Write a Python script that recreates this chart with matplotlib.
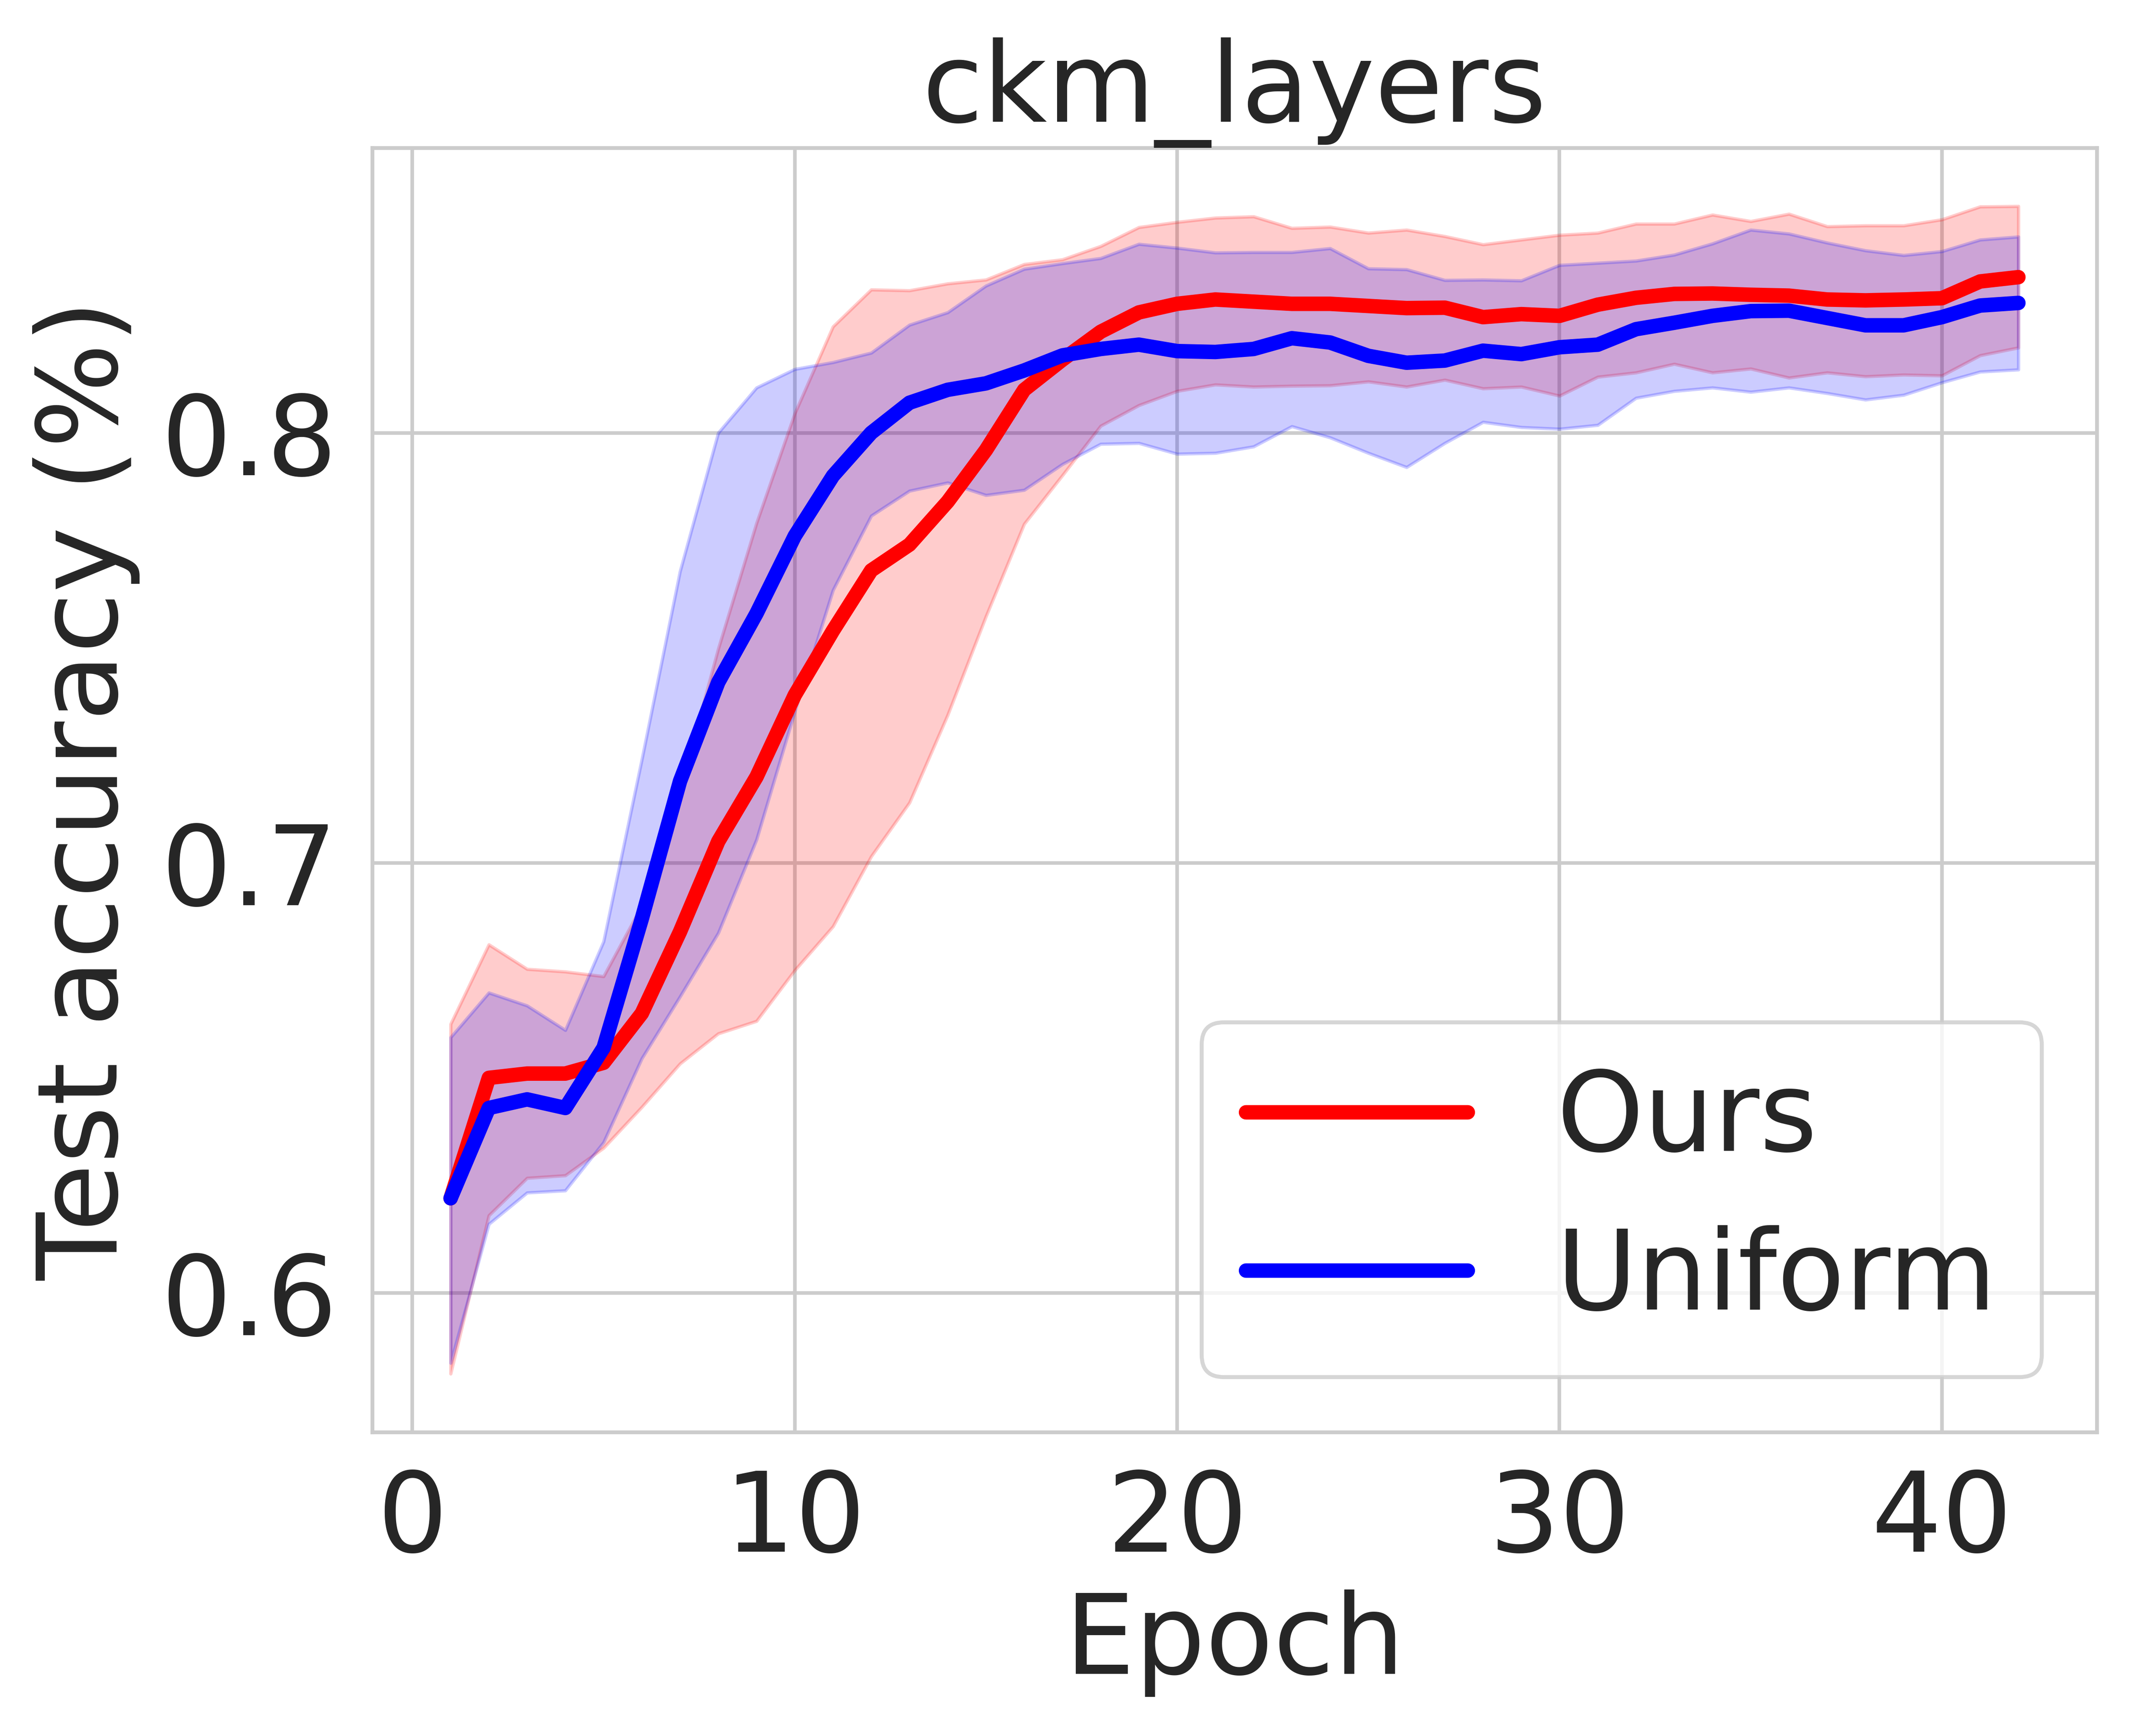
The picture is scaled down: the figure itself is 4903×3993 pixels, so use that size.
import matplotlib
matplotlib.use("Agg")
import matplotlib.pyplot as plt

# ---------------- data ----------------
epochs = list(range(1, 43))

ours_mean = [0.622, 0.650, 0.651, 0.651, 0.6535, 0.665, 0.684, 0.705, 0.720, 0.739,
             0.754, 0.768, 0.774, 0.784, 0.796, 0.810, 0.817, 0.8235, 0.828, 0.830,
             0.831, 0.8305, 0.830, 0.830, 0.8295, 0.829, 0.8291, 0.8269, 0.8276, 0.8272,
             0.8298, 0.8314, 0.8323, 0.8324, 0.8321, 0.8319, 0.8310, 0.8308, 0.8310, 0.8313,
             0.8352, 0.8362]
ours_upper = [0.6625, 0.681, 0.6753, 0.6747, 0.6736, 0.690, 0.717, 0.7498, 0.779, 0.8045,
              0.8247, 0.8333, 0.8331, 0.8347, 0.8356, 0.8392, 0.8403, 0.8434, 0.8478, 0.849,
              0.850, 0.8503, 0.8476, 0.8479, 0.8465, 0.8472, 0.8457, 0.8438, 0.8449, 0.846,
              0.8465, 0.8486, 0.8486, 0.8507, 0.8492, 0.8509, 0.848, 0.8482, 0.8482, 0.8496,
              0.8526, 0.8527]
ours_lower = [0.5812, 0.618, 0.6267, 0.6273, 0.6337, 0.6432, 0.6533, 0.6603, 0.6632, 0.675,
              0.6852, 0.7015, 0.714, 0.7344, 0.7573, 0.7788, 0.7901, 0.8016, 0.8064, 0.8097,
              0.8112, 0.8107, 0.8109, 0.811, 0.8119, 0.8107, 0.8123, 0.8103, 0.8107, 0.8086,
              0.813, 0.814, 0.816, 0.814, 0.8149, 0.8128, 0.814, 0.8131, 0.8135, 0.8133,
              0.818, 0.8198]

uniform_mean = [0.622, 0.643, 0.645, 0.643, 0.657, 0.687, 0.719, 0.742, 0.758, 0.776,
                0.790, 0.800, 0.807, 0.810, 0.8115, 0.8145, 0.818, 0.8195, 0.8205, 0.819,
                0.8188, 0.8195, 0.822, 0.821, 0.8179, 0.8163, 0.8168, 0.8191, 0.8183, 0.8199,
                0.8205, 0.8241, 0.8256, 0.8272, 0.8283, 0.8284, 0.8267, 0.825, 0.825, 0.8269,
                0.8296, 0.8302]
uniform_upper = [0.6594, 0.6698, 0.6668, 0.6611, 0.6817, 0.7240, 0.7678, 0.800, 0.8105, 0.8148,
                 0.8164, 0.8186, 0.8251, 0.828, 0.8342, 0.8381, 0.8394, 0.8406, 0.8439, 0.8430,
                 0.8419, 0.842, 0.842, 0.8429, 0.8382, 0.838, 0.8355, 0.8356, 0.8354, 0.839,
                 0.8395, 0.840, 0.8414, 0.844, 0.8472, 0.8463, 0.8442, 0.8424, 0.8413, 0.8422,
                 0.8449, 0.8456]
uniform_lower = [0.5837, 0.616, 0.6233, 0.6238, 0.635, 0.6545, 0.6689, 0.6837, 0.7054, 0.7352,
                 0.7634, 0.7807, 0.7865, 0.7884, 0.7855, 0.7867, 0.7927, 0.7974, 0.7976, 0.7951,
                 0.7953, 0.7968, 0.8015, 0.7989, 0.7953, 0.7920, 0.7976, 0.8025, 0.8013, 0.8009,
                 0.8018, 0.8081, 0.8097, 0.8105, 0.8095, 0.8105, 0.8092, 0.8077, 0.8088, 0.8117,
                 0.8142, 0.8147]

series_labels = ["Ours", "Uniform"]
series_colors = ["red", "blue"]
title_text = "ckm_layers"
xlabel_text = "Epoch"
ylabel_text = "Test accuracy (%)"
xtick_values = [0, 10, 20, 30, 40]
ytick_values = [0.6, 0.7, 0.8]

# ---------------- style ----------------
FS = 30.6
TXT = "#262626"
plt.rcParams.update({
    "font.family": ["DejaVu Sans"],
    "font.size": FS,
    "text.color": TXT,
    "axes.labelcolor": TXT,
    "xtick.color": TXT,
    "ytick.color": TXT,
    "xtick.labelsize": FS,
    "ytick.labelsize": FS,
    "axes.titlesize": FS,
    "axes.labelsize": FS,
    "legend.fontsize": FS,
    "lines.solid_capstyle": "round",
    "lines.solid_joinstyle": "round",
    "axes.edgecolor": "#cccccc",
    "axes.linewidth": 1.05,
    "grid.color": "#cccccc",
    "grid.linewidth": 1.0,
    "xtick.major.size": 0,
    "ytick.major.size": 0,
    "xtick.major.pad": 9.7,
    "ytick.major.pad": 9.7,
    "legend.edgecolor": "#cccccc",
    "legend.framealpha": 0.8,
    "patch.linewidth": 1.1,
})

fig = plt.figure(figsize=(4903 / 600, 3993 / 600), dpi=600)
ax = fig.add_axes([856 / 4903, 1 - 3294 / 3993, (4822 - 856) / 4903, (3294 - 340) / 3993])
ax.set_axisbelow(True)
ax.grid(True)

bands = [(ours_lower, ours_upper), (uniform_lower, uniform_upper)]
means = [ours_mean, uniform_mean]

for (lo, hi), c in zip(bands, series_colors):
    ax.fill_between(epochs, lo, hi, color=c, alpha=0.2, linewidth=0.9)

for m, c, lab in zip(means, series_colors, series_labels):
    ax.plot(epochs, m, color=c, linewidth=4, label=lab)

ax.set_xticks(xtick_values)
ax.set_yticks(ytick_values)
ax.set_title(title_text, pad=0.8)
ax.set_xlabel(xlabel_text, labelpad=4.1)
ax.set_ylabel(ylabel_text, labelpad=5.6)
ax.tick_params(axis="both", which="both", length=0)

ax.legend(loc="lower right", labelspacing=0.46)

fig.savefig("out.png", dpi=600)
